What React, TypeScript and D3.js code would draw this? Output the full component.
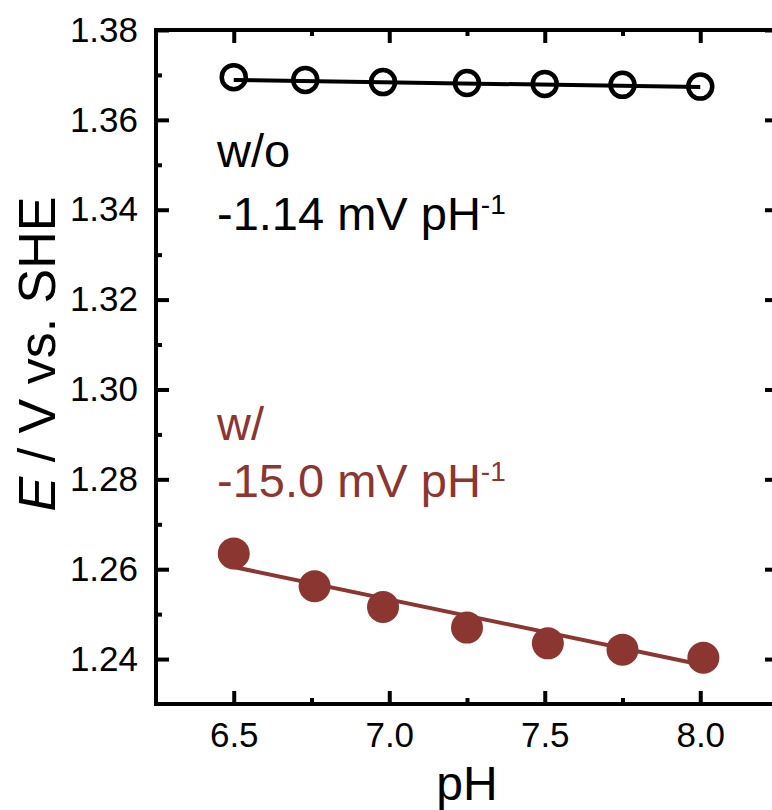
import React, { useEffect, useRef } from "react";
import * as d3 from "d3";

// pH vs potential, with and without additive
const phWo = [6.5, 6.73, 6.98, 7.25, 7.5, 7.75, 8.0];
const eWo = [1.3695, 1.3689, 1.3684, 1.3682, 1.368, 1.3678, 1.3674];
const phW = [6.5, 6.76, 6.98, 7.25, 7.51, 7.75, 8.01];
const eW = [1.2635, 1.2562, 1.2516, 1.247, 1.2435, 1.2421, 1.2403];

// linear fits (end points)
const fitPh = [6.5, 8.0];
const fitWo = [1.3689, 1.3673];
const fitW = [1.2605, 1.2388];

const xMajor = [6.5, 7.0, 7.5, 8.0];
const xMinor = [6.75, 7.25, 7.75];
const yMajor = [1.24, 1.26, 1.28, 1.3, 1.32, 1.34, 1.36, 1.38];
const yMinor = [1.25, 1.27, 1.29, 1.31, 1.33, 1.35, 1.37];

const RED = "#8c3632";
const FONT = "'Liberation Sans', Arial, sans-serif";

export default function App() {
  const ref = useRef<SVGSVGElement>(null);

  useEffect(() => {
    const svg = d3.select(ref.current);
    svg.selectAll("*").remove();
    const margin = { left: 156, top: 30, right: 778, bottom: 704 };

    const x = d3.scaleLinear().domain([6.25, 8.25]).range([margin.left, margin.right]);
    const y = d3.scaleLinear().domain([1.23, 1.38]).range([margin.bottom, margin.top]);

    const styleAxis = (g: any) => {
      g.select(".domain").remove();
      g.selectAll("line").attr("stroke", "#000").attr("stroke-width", 4);
      g.selectAll("text")
        .attr("fill", "#000")
        .style("font-family", FONT)
        .style("font-size", "35px");
    };

    // left
    svg.append("g")
      .attr("transform", `translate(${margin.left},0)`)
      .call(d3.axisLeft(y).tickValues(yMajor).tickSize(-13).tickPadding(18).tickFormat(d3.format(".2f")))
      .call(styleAxis);
    svg.append("g")
      .attr("transform", `translate(${margin.left},0)`)
      .call(d3.axisLeft(y).tickValues(yMinor).tickSize(-6).tickFormat(() => ""))
      .call(styleAxis);
    // right
    svg.append("g")
      .attr("transform", `translate(${margin.right},0)`)
      .call(d3.axisRight(y).tickValues(yMajor).tickSize(-13).tickFormat(() => ""))
      .call(styleAxis);
    svg.append("g")
      .attr("transform", `translate(${margin.right},0)`)
      .call(d3.axisRight(y).tickValues(yMinor).tickSize(-6).tickFormat(() => ""))
      .call(styleAxis);
    // bottom
    svg.append("g")
      .attr("transform", `translate(0,${margin.bottom})`)
      .call(d3.axisBottom(x).tickValues(xMajor).tickSize(-13).tickPadding(18).tickFormat(d3.format(".1f")))
      .call(styleAxis);
    svg.append("g")
      .attr("transform", `translate(0,${margin.bottom})`)
      .call(d3.axisBottom(x).tickValues(xMinor).tickSize(-6).tickFormat(() => ""))
      .call(styleAxis);
    // top
    svg.append("g")
      .attr("transform", `translate(0,${margin.top})`)
      .call(d3.axisTop(x).tickValues(xMajor).tickSize(-13).tickFormat(() => ""))
      .call(styleAxis);
    svg.append("g")
      .attr("transform", `translate(0,${margin.top})`)
      .call(d3.axisTop(x).tickValues(xMinor).tickSize(-6).tickFormat(() => ""))
      .call(styleAxis);

    svg.append("rect")
      .attr("x", margin.left)
      .attr("y", margin.top)
      .attr("width", margin.right - margin.left)
      .attr("height", margin.bottom - margin.top)
      .attr("fill", "none")
      .attr("stroke", "#000")
      .attr("stroke-width", 4);

    const line = d3.line<number>().x((d, i) => x(fitPh[i])).y((d) => y(d));

    // w/o
    svg.append("path").attr("d", line(fitWo)).attr("fill", "none").attr("stroke", "#000").attr("stroke-width", 4);
    svg.append("g")
      .selectAll("circle")
      .data(eWo)
      .enter()
      .append("circle")
      .attr("cx", (d, i) => x(phWo[i]))
      .attr("cy", (d) => y(d))
      .attr("r", 12)
      .attr("fill", "none")
      .attr("stroke", "#000")
      .attr("stroke-width", 4.5);

    // w/
    svg.append("path").attr("d", line(fitW)).attr("fill", "none").attr("stroke", RED).attr("stroke-width", 4);
    svg.append("g")
      .selectAll("circle")
      .data(eW)
      .enter()
      .append("circle")
      .attr("cx", (d, i) => x(phW[i]))
      .attr("cy", (d) => y(d))
      .attr("r", 16)
      .attr("fill", RED);

    const note = (lines: string[], color: string, y0: number, y1: number) => {
      const t = svg.append("g").attr("fill", color).style("font-family", FONT).style("font-size", "47px");
      t.append("text").attr("x", 217).attr("y", y0).text(lines[0]);
      const t2 = t.append("text").attr("x", 217).attr("y", y1);
      t2.append("tspan").text(lines[1]);
      t2.append("tspan").attr("dy", -16).style("font-size", "28px").text("-1");
    };
    note(["w/o", "-1.14 mV pH"], "#000", 167, 230);
    note(["w/", "-15.0 mV pH"], RED, 440, 497);

    // axis titles
    const yl = svg.append("text")
      .attr("transform", "translate(55,354) rotate(-90)")
      .attr("text-anchor", "middle")
      .style("font-family", FONT)
      .style("font-size", "52px");
    yl.append("tspan").style("font-style", "italic").text("E");
    yl.append("tspan").text(" / V vs. SHE");

    svg.append("text")
      .attr("x", (margin.left + margin.right) / 2)
      .attr("y", 800)
      .attr("text-anchor", "middle")
      .style("font-family", FONT)
      .style("font-size", "48px")
      .text("pH");
  }, []);

  return (
    <svg
      ref={ref}
      width={772}
      height={810}
      style={{ position: "absolute", left: 0, top: 0, background: "#fff" }}
    />
  );
}
